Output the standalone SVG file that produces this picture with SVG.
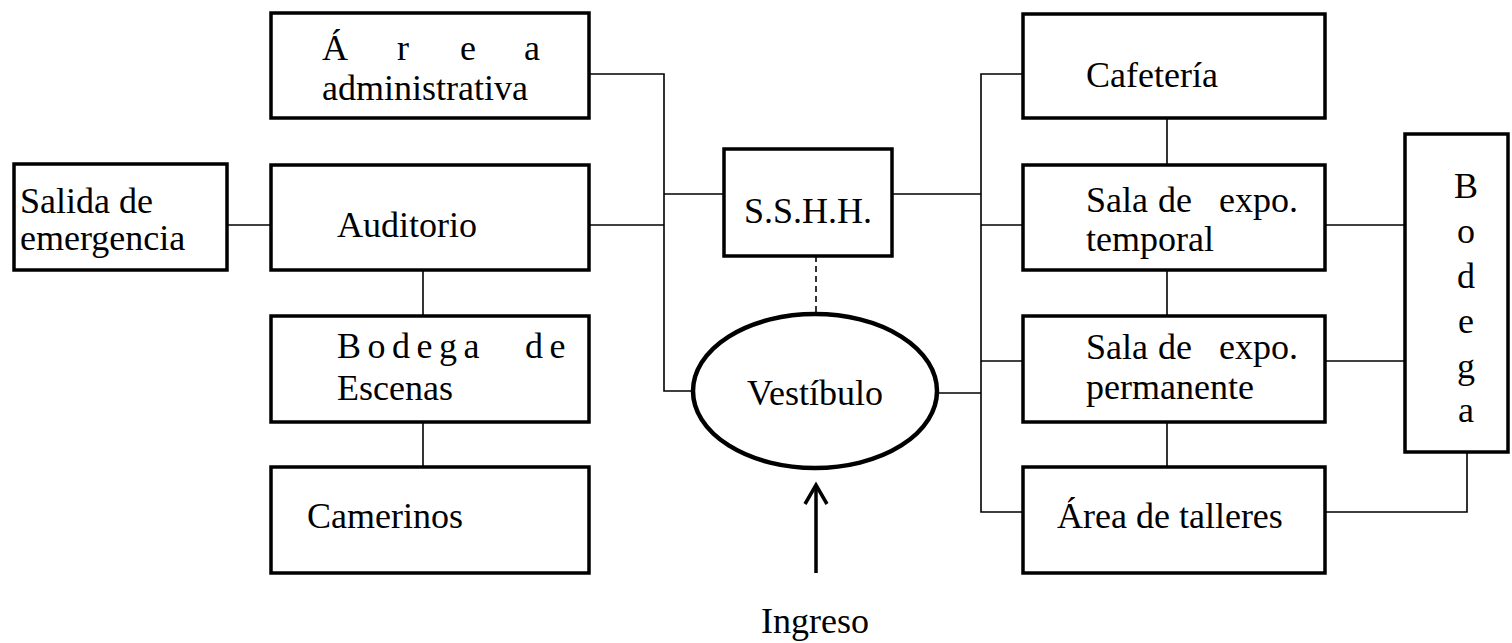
<svg xmlns="http://www.w3.org/2000/svg" width="1512" height="643" viewBox="0 0 1512 643">
<style>
.box{fill:#fff;stroke:#000;stroke-width:3.5}
.t{font-family:'Liberation Serif','Times New Roman','DejaVu Serif',serif;font-size:36px;fill:#000}
.c{fill:none;stroke:#000;stroke-width:1.6}
</style>
<rect width="1512" height="643" fill="#fff"/>
<g id="connectors">
<polyline class="c" points="589,74 664,74 664,391 693,391"/>
<line class="c" x1="589" y1="225" x2="664" y2="225"/>
<line class="c" x1="664" y1="194" x2="724" y2="194"/>
<line class="c" x1="227" y1="225" x2="271" y2="225"/>
<line class="c" x1="423" y1="270" x2="423" y2="316"/>
<line class="c" x1="423" y1="422" x2="423" y2="467"/>
<line class="c" x1="816" y1="256" x2="816" y2="314" stroke-dasharray="6,4"/>
<line class="c" x1="892" y1="194" x2="981" y2="194"/>
<line class="c" x1="938" y1="393" x2="981" y2="393"/>
<polyline class="c" points="1023,74 981,74 981,512 1023,512"/>
<line class="c" x1="981" y1="225" x2="1023" y2="225"/>
<line class="c" x1="981" y1="361" x2="1023" y2="361"/>
<line class="c" x1="1167" y1="118" x2="1167" y2="165"/>
<line class="c" x1="1167" y1="270" x2="1167" y2="316"/>
<line class="c" x1="1167" y1="422" x2="1167" y2="467"/>
<line class="c" x1="1325" y1="225" x2="1405" y2="225"/>
<line class="c" x1="1325" y1="361" x2="1405" y2="361"/>
<polyline class="c" points="1325,512 1467,512 1467,452"/>
<line x1="816" y1="573" x2="816" y2="485" stroke="#000" stroke-width="3.5"/>
<polyline points="805,504 816,485 827,504" fill="none" stroke="#000" stroke-width="3.5"/>
</g>
<g id="area-administrativa">
<rect class="box" x="271" y="13" width="318" height="105"/>
<text class="t" y="60"><tspan x="322">Á</tspan><tspan x="397">r</tspan><tspan x="460">e</tspan><tspan x="524">a</tspan></text>
<text class="t" x="322" y="100">administrativa</text>
</g>
<g id="salida-emergencia">
<rect class="box" x="14" y="164" width="213" height="106"/>
<text class="t" x="20" y="213">Salida de</text>
<text class="t" x="20" y="250">emergencia</text>
</g>
<g id="auditorio">
<rect class="box" x="271" y="165" width="318" height="105"/>
<text class="t" x="337" y="237">Auditorio</text>
</g>
<g id="bodega-escenas">
<rect class="box" x="271" y="316" width="318" height="106"/>
<text class="t" y="358" letter-spacing="6.5"><tspan x="337">Bodega</tspan><tspan x="525">de</tspan></text>
<text class="t" x="337" y="400">Escenas</text>
</g>
<g id="camerinos">
<rect class="box" x="271" y="467" width="318" height="106"/>
<text class="t" x="307" y="528">Camerinos</text>
</g>
<g id="sshh">
<rect class="box" x="724" y="149" width="168" height="107"/>
<text class="t" x="808" y="223" text-anchor="middle">S.S.H.H.</text>
</g>
<g id="vestibulo">
<ellipse cx="815" cy="391" rx="122" ry="77" fill="#fff" stroke="#000" stroke-width="4.5"/>
<text class="t" x="815" y="405" text-anchor="middle">Vestíbulo</text>
</g>
<g id="ingreso">
<text class="t" x="815" y="633" text-anchor="middle">Ingreso</text>
</g>
<g id="cafeteria">
<rect class="box" x="1023" y="14" width="302" height="104"/>
<text class="t" x="1086" y="87">Cafetería</text>
</g>
<g id="sala-temporal">
<rect class="box" x="1023" y="165" width="302" height="105"/>
<text class="t" y="212"><tspan x="1086">Sala</tspan><tspan x="1158">de</tspan><tspan x="1219">expo.</tspan></text>
<text class="t" x="1086" y="251">temporal</text>
</g>
<g id="sala-permanente">
<rect class="box" x="1023" y="316" width="302" height="106"/>
<text class="t" y="359"><tspan x="1086">Sala</tspan><tspan x="1158">de</tspan><tspan x="1219">expo.</tspan></text>
<text class="t" x="1086" y="399">permanente</text>
</g>
<g id="area-talleres">
<rect class="box" x="1023" y="467" width="302" height="106"/>
<text class="t" x="1057" y="528">Área de talleres</text>
</g>
<g id="bodega">
<rect class="box" x="1405" y="134" width="103" height="318"/>
<text class="t" text-anchor="middle"><tspan x="1466" y="198">B</tspan><tspan x="1466" y="243">o</tspan><tspan x="1466" y="288">d</tspan><tspan x="1466" y="333">e</tspan><tspan x="1466" y="378">g</tspan><tspan x="1466" y="422">a</tspan></text>
</g>
</svg>
